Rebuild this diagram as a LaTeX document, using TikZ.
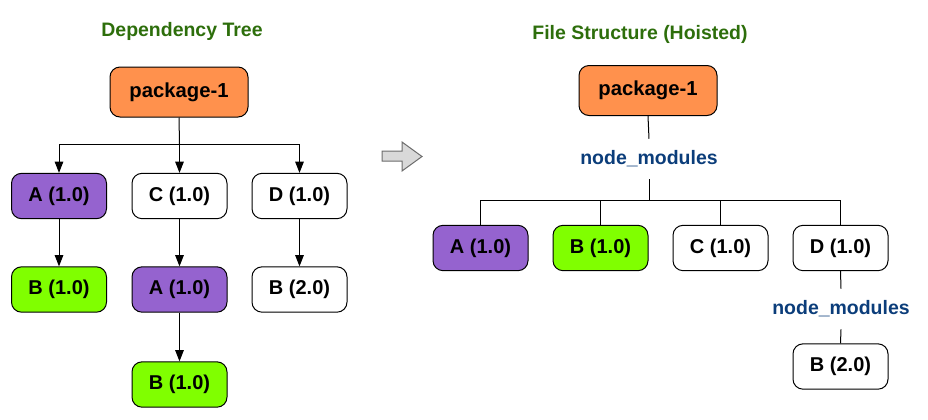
\documentclass[tikz,border=0pt]{standalone}
\usepackage{fontspec}
\setmainfont{Liberation Sans}
\usetikzlibrary{arrows.meta}

\definecolor{pkgorange}{HTML}{FF914D}
\definecolor{depurple}{HTML}{9563CF}
\definecolor{depgreen}{HTML}{80FF00}
\definecolor{titlegreen}{HTML}{2D6E0B}
\definecolor{dirblue}{HTML}{0B3D7A}

\tikzset{
  pkgbox/.style={draw=black, line width=0.75pt, rounded corners=7.5pt, fill=pkgorange,
    minimum width=103.5pt, minimum height=37.5pt, inner sep=0pt,
    font=\fontsize{15.2}{18}\selectfont\bfseries},
  depbox/.style={draw=black, line width=0.75pt, rounded corners=7.5pt, fill=white,
    minimum width=71.25pt, minimum height=34pt, inner sep=0pt,
    font=\fontsize{15}{18}\selectfont\bfseries},
  title/.style={text=titlegreen, font=\fontsize{14.6}{17}\selectfont\bfseries},
  dirlabel/.style={text=dirblue, minimum height=30pt, inner sep=0pt,
    font=\fontsize{14.6}{17}\selectfont\bfseries},
  arrow/.style={line width=0.75pt, -{Triangle[length=8.5pt,width=6.5pt]}},
  link/.style={line width=0.75pt}
}

\begin{document}
\begin{tikzpicture}[x=0.75pt, y=-0.75pt]
        \useasboundingbox (0,0) rectangle (928,419);

        % Left: the dependency tree
        \node[title] (titleL) at (182,31) {Dependency Tree};
        \node[pkgbox] (pkgL) at (179,92) {package-1};

        \node[depbox, fill=depurple] (aL) at (59,196) {A (1.0)};
        \node[depbox] (cL) at (179.5,196) {C (1.0)};
        \node[depbox] (dL) at (299.5,196) {D (1.0)};

        \node[depbox, fill=depgreen] (abL) at (59,289.5) {B (1.0)};
        \node[depbox, fill=depurple] (caL) at (179.5,289.5) {A (1.0)};
        \node[depbox] (dbL) at (299.5,289.5) {B (2.0)};

        \node[depbox, fill=depgreen] (cabL) at (179.5,384.5) {B (1.0)};

        % Left: the arrows
        \coordinate (barL) at (179.5,144);
        \draw[link] (pkgL.south) -- (barL);
        \draw[arrow] (barL) -| (aL.north);
        \draw[arrow] (barL) -- (cL.north);
        \draw[arrow] (barL) -| (dL.north);
        \draw[arrow] (aL) -- (abL);
        \draw[arrow] (cL) -- (caL);
        \draw[arrow] (dL) -- (dbL);
        \draw[arrow] (caL) -- (cabL);

        % The hoisting arrow
        \draw[draw=gray!85!black, fill=gray!30, line width=0.75pt, line join=miter]
          (382,151) -- (402,151) -- (402,142) -- (422,156.5) -- (402,171)
          -- (402,161) -- (382,161) -- cycle;

        % Right: the file structure
        \node[title] (titleR) at (640,34) {File Structure (Hoisted)};
        \node[pkgbox] (pkgR) at (648,90.5) {package-1};
        \node[dirlabel] (nmR) at (649,159) {node\_modules};

        \node[depbox, fill=depurple] (aR) at (480.5,248) {A (1.0)};
        \node[depbox, fill=depgreen] (bR) at (600.5,248) {B (1.0)};
        \node[depbox] (cR) at (720.5,248) {C (1.0)};
        \node[depbox] (dR) at (840.5,248) {D (1.0)};

        \node[dirlabel] (nmD) at (841,309) {node\_modules};
        \node[depbox] (dbR) at (840.5,366.5) {B (2.0)};

        % Right: the links
        \coordinate (barR) at (649,200.5);
        \draw[link] (pkgR.south) -- (nmR.north);
        \draw[link] (nmR.south) -- (barR);
        \draw[link] (barR) -| (aR.north);
        \draw[link] (barR) -| (bR.north);
        \draw[link] (barR) -| (cR.north);
        \draw[link] (barR) -| (dR.north);
        \draw[link] (dR.south) -- (nmD.north);
        \draw[link] (nmD.south) -- (dbR.north);

        \end{tikzpicture}
\end{document}
